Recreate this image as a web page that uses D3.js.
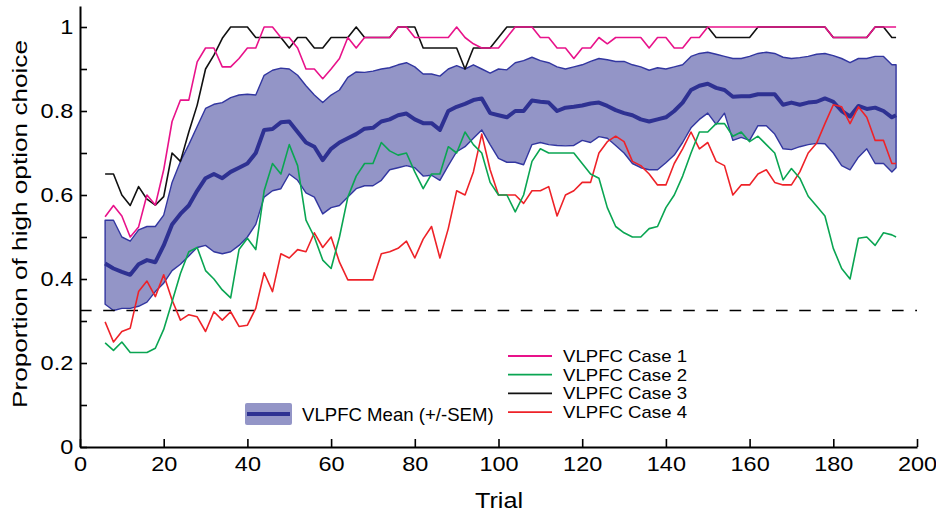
<!DOCTYPE html>
<html>
<head>
<meta charset="utf-8">
<script src="https://cdn.jsdelivr.net/npm/d3@7"></script>
<style>
	body{margin:0;background:#fff;}
	svg text{font-family:"Liberation Sans",Arial,sans-serif;fill:#000;}
</style>
</head>
<body>
<div id="chart"></div>
<script>
let trials = d3.range(6,195,2).concat([195]);

let meanVals = [0.437,0.425,0.417,0.41,0.435,0.445,0.44,0.48,0.53,0.555,0.575,0.61,0.64,0.65,0.64,0.655,
	0.665,0.675,0.70,0.755,0.757,0.773,0.775,0.75,0.725,0.715,0.683,0.71,0.725,0.735,0.745,0.758,
	0.76,0.775,0.78,0.79,0.794,0.78,0.771,0.771,0.755,0.80,0.81,0.817,0.826,0.83,0.795,
	0.79,0.785,0.80,0.80,0.825,0.822,0.82,0.80,0.808,0.81,0.813,0.818,0.82,0.812,0.802,0.795,0.79,0.78,
	0.775,0.78,0.785,0.80,0.82,0.85,0.86,0.865,0.855,0.85,0.834,0.835,0.835,0.84,0.84,0.84,
	0.815,0.82,0.815,0.82,0.822,0.83,0.822,0.80,0.787,0.812,0.805,0.808,0.80,0.785,0.79];

let upperVals = [0.54,0.54,0.50,0.49,0.517,0.525,0.525,0.552,0.63,0.68,0.72,0.763,0.806,0.816,0.82,0.832,
	0.838,0.84,0.838,0.885,0.897,0.902,0.90,0.885,0.86,0.838,0.82,0.838,0.85,0.88,0.893,0.892,
	0.895,0.90,0.903,0.91,0.915,0.905,0.888,0.888,0.883,0.90,0.908,0.90,0.91,0.90,0.89,
	0.90,0.898,0.915,0.92,0.928,0.92,0.915,0.905,0.90,0.905,0.91,0.918,0.925,0.922,0.918,0.918,0.91,0.905,
	0.897,0.903,0.90,0.905,0.91,0.93,0.937,0.94,0.935,0.93,0.925,0.925,0.93,0.937,0.94,0.937,
	0.928,0.925,0.927,0.93,0.935,0.937,0.932,0.925,0.915,0.925,0.925,0.93,0.93,0.91,0.91];

let lowerVals = [0.34,0.325,0.33,0.33,0.335,0.345,0.37,0.39,0.42,0.435,0.455,0.475,0.48,0.465,0.46,0.465,
	0.48,0.50,0.53,0.595,0.61,0.615,0.65,0.635,0.605,0.595,0.555,0.57,0.575,0.595,0.615,0.622,
	0.622,0.635,0.66,0.665,0.67,0.665,0.645,0.647,0.635,0.67,0.703,0.715,0.735,0.755,0.72,
	0.687,0.678,0.678,0.672,0.72,0.725,0.72,0.718,0.717,0.718,0.73,0.725,0.739,0.735,0.718,0.70,0.675,0.665,
	0.66,0.66,0.677,0.695,0.725,0.76,0.78,0.795,0.768,0.795,0.73,0.737,0.73,0.765,0.765,0.745,
	0.71,0.708,0.715,0.72,0.723,0.722,0.70,0.67,0.66,0.69,0.71,0.675,0.675,0.655,0.665];

let case1 = [0.548,0.575,0.55,0.50,0.524,0.60,0.576,0.66,0.775,0.826,0.826,0.917,0.95,0.95,0.905,0.905,
	0.925,0.95,0.95,1.0,1.0,0.975,0.975,0.95,0.90,0.90,0.877,0.90,0.925,0.975,0.95,0.975,
	0.975,0.975,0.975,1.0,1.0,0.975,0.975,0.975,0.975,0.975,1.0,0.975,0.96,0.95,0.95,
	0.95,0.975,1.0,1.0,1.0,0.975,0.975,0.95,0.95,0.925,0.95,0.95,0.975,0.96,0.975,0.975,0.975,0.975,
	0.95,0.975,0.975,0.95,0.95,0.975,0.975,1.0,1.0,1.0,1.0,1.0,1.0,1.0,1.0,1.0,
	1.0,1.0,1.0,1.0,1.0,1.0,0.975,0.975,0.975,0.975,0.975,1.0,1.0,1.0,1.0];

let case2 = [0.248,0.23,0.25,0.225,0.225,0.225,0.235,0.28,0.346,0.413,0.465,0.475,0.42,0.40,0.374,0.355,
	0.47,0.497,0.47,0.61,0.675,0.65,0.72,0.67,0.54,0.50,0.445,0.425,0.50,0.595,0.645,0.675,
	0.675,0.725,0.705,0.695,0.70,0.655,0.615,0.65,0.65,0.715,0.70,0.75,0.72,0.70,0.63,
	0.60,0.60,0.56,0.60,0.68,0.71,0.70,0.70,0.70,0.70,0.675,0.65,0.64,0.57,0.525,0.51,0.50,0.50,
	0.52,0.525,0.57,0.60,0.645,0.70,0.75,0.75,0.77,0.77,0.74,0.75,0.727,0.74,0.72,0.70,
	0.636,0.663,0.64,0.597,0.574,0.55,0.473,0.425,0.40,0.497,0.50,0.48,0.51,0.505,0.50];

let case3 = [0.65,0.65,0.60,0.575,0.62,0.59,0.576,0.596,0.70,0.68,0.75,0.814,0.90,0.933,0.973,1.0,
	1.0,1.0,0.975,0.975,0.975,0.975,0.95,0.975,0.975,0.95,0.95,0.975,0.975,0.975,1.0,0.975,
	0.975,0.975,0.975,1.0,1.0,1.0,0.95,0.95,0.95,0.95,0.95,0.90,0.95,0.95,0.95,
	0.975,1.0,1.0,1.0,1.0,1.0,1.0,1.0,1.0,1.0,1.0,1.0,1.0,1.0,1.0,1.0,1.0,1.0,
	1.0,1.0,1.0,1.0,1.0,1.0,1.0,1.0,0.975,0.975,0.975,0.975,0.975,1.0,1.0,1.0,
	1.0,1.0,1.0,1.0,1.0,1.0,0.975,0.975,0.975,0.975,0.975,1.0,1.0,0.975,0.975];

let case4 = [0.298,0.25,0.275,0.283,0.37,0.395,0.358,0.41,0.35,0.302,0.315,0.31,0.275,0.322,0.302,0.322,
	0.287,0.29,0.33,0.415,0.37,0.46,0.45,0.47,0.465,0.51,0.475,0.50,0.44,0.398,0.398,0.398,
	0.398,0.46,0.465,0.473,0.49,0.45,0.495,0.525,0.45,0.52,0.61,0.60,0.655,0.745,0.66,
	0.60,0.60,0.60,0.58,0.61,0.61,0.62,0.55,0.60,0.61,0.63,0.63,0.70,0.727,0.74,0.727,0.68,0.67,
	0.65,0.624,0.624,0.675,0.71,0.75,0.71,0.725,0.68,0.67,0.60,0.624,0.624,0.65,0.66,0.63,
	0.624,0.624,0.655,0.70,0.723,0.77,0.815,0.81,0.77,0.81,0.785,0.73,0.73,0.675,0.675];

let chanceLevel = 0.325;
let xTicks = [0,20,40,60,80,100,120,140,160,180,200];
let yTicks = [0,0.1,0.2,0.3,0.4,0.5,0.6,0.7,0.8,0.9,1];
let caseNames = ["VLPFC Case 1","VLPFC Case 2","VLPFC Case 3","VLPFC Case 4"];
let caseColors = ["#e8128a","#0aa552","#111111","#ee2228"];
let meanName = "VLPFC Mean (+/-SEM)";

let bandFill = "#9395c7";
let bandEdge = "#3236a0";
let meanColor = "#2e3192";

//描画
function drawChart(){
	let width = 936, height = 514;
	let svg = d3.select("#chart").append("svg")
		.attr("width",width)
		.attr("height",height);

	let x = d3.scaleLinear().domain([0,200]).range([80,917]);
	let y = d3.scaleLinear().domain([0,1.05]).range([447,6]);

	let rows = trials.map(function(t,i){
		return {t:t, m:meanVals[i], hi:upperVals[i], lo:lowerVals[i]};
	});

	//SEM band
	let band = d3.area()
		.x(function(d){return x(d.t);})
		.y0(function(d){return y(d.lo);})
		.y1(function(d){return y(d.hi);});
	svg.append("path")
		.datum(rows)
		.attr("d",band)
		.attr("fill",bandFill)
		.attr("stroke",bandEdge)
		.attr("stroke-width",1.4)
		.attr("stroke-linejoin","round");

	//chance line
	svg.append("line")
		.attr("x1",x(0)).attr("x2",x(200))
		.attr("y1",y(chanceLevel)).attr("y2",y(chanceLevel))
		.attr("stroke","#000")
		.attr("stroke-width",1.6)
		.attr("stroke-dasharray","11.6,11.6");

	let line = d3.line()
		.x(function(d){return x(d[0]);})
		.y(function(d){return y(d[1]);});

	svg.append("path")
		.datum(trials.map(function(t,i){return [t,meanVals[i]];}))
		.attr("d",line)
		.attr("fill","none")
		.attr("stroke",meanColor)
		.attr("stroke-width",4)
		.attr("stroke-linejoin","round");

	//個別の症例（黒→赤→緑→マゼンタの順に重ねる）
	let cases = [case1,case2,case3,case4];
	let order = [2,3,1,0];
	order.forEach(function(k){
		svg.append("path")
			.datum(trials.map(function(t,i){return [t,cases[k][i]];}))
			.attr("d",line)
			.attr("fill","none")
			.attr("stroke",caseColors[k])
			.attr("stroke-width",1.6)
			.attr("stroke-linejoin","round");
	});

	//axes (ticks point inward)
	let xAxis = d3.axisBottom(x)
		.tickValues(xTicks)
		.tickSizeInner(-8)
		.tickSizeOuter(0)
		.tickPadding(9)
		.tickFormat(d3.format("d"));
	let gx = svg.append("g")
		.attr("transform","translate(0,447)")
		.call(xAxis);

	let yAxis = d3.axisLeft(y)
		.tickValues(yTicks)
		.tickSizeInner(-7)
		.tickSizeOuter(0)
		.tickPadding(6)
		.tickFormat(function(d){
			let k = Math.round(d*10);
			if(k%2!=0) return "";
			return (k==0||k==10) ? String(k/10) : d3.format(".1f")(d);
		});
	let gy = svg.append("g")
		.attr("transform","translate(80,0)")
		.call(yAxis);

	[gx,gy].forEach(function(g){
		g.select(".domain").attr("stroke","#000").attr("stroke-width",2);
		g.selectAll(".tick line").attr("stroke","#000").attr("stroke-width",1.6);
		g.selectAll(".tick text")
			.attr("font-size",21)
			.attr("font-family","Liberation Sans, Arial, sans-serif")
			.attr("transform","scale(1.12,1)");
	});

	//axis titles
	svg.append("text")
		.attr("x",499).attr("y",508)
		.attr("text-anchor","middle")
		.attr("font-size",22)
		.attr("textLength",48)
		.attr("lengthAdjust","spacingAndGlyphs")
		.text("Trial");

	svg.append("text")
		.attr("transform","translate(27,224) rotate(-90)")
		.attr("text-anchor","middle")
		.attr("font-size",20.5)
		.attr("textLength",368)
		.attr("lengthAdjust","spacingAndGlyphs")
		.text("Proportion of high option choice");

	//legend (rows are tight, so the font is a bit smaller and stretched to the original width)
	let legY = [356,374.7,393.4,412.1];
	caseNames.forEach(function(name,i){
		svg.append("line")
			.attr("x1",508).attr("x2",552)
			.attr("y1",legY[i]).attr("y2",legY[i])
			.attr("stroke",caseColors[i])
			.attr("stroke-width",1.8);
		svg.append("text")
			.attr("x",563).attr("y",legY[i]+6)
			.attr("font-size",16.2)
			.attr("textLength",124)
			.attr("lengthAdjust","spacingAndGlyphs")
			.text(name);
	});

	svg.append("rect")
		.attr("x",245).attr("y",403)
		.attr("width",47).attr("height",22)
		.attr("rx",2)
		.attr("fill",bandFill);
	svg.append("line")
		.attr("x1",247).attr("x2",290)
		.attr("y1",414).attr("y2",414)
		.attr("stroke",meanColor)
		.attr("stroke-width",4);
	svg.append("text")
		.attr("x",302).attr("y",421)
		.attr("font-size",18.6)
		.text(meanName);
}

drawChart();
</script>
</body>
</html>
